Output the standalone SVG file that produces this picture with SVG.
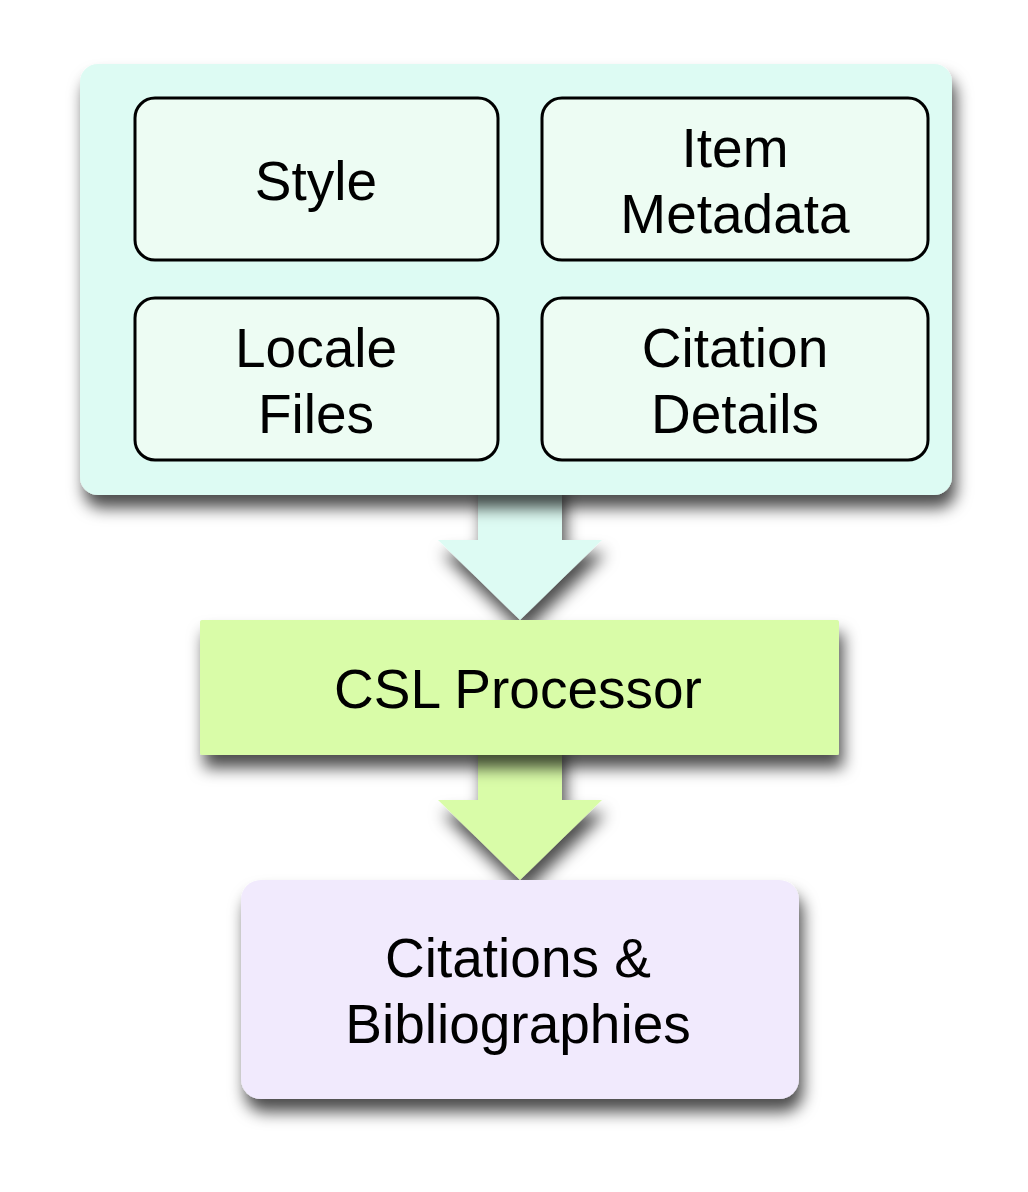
<svg xmlns="http://www.w3.org/2000/svg" width="1028" height="1192" viewBox="0 0 1028 1192">
<defs>
<filter id="sh" x="-20%" y="-20%" width="140%" height="160%">
<feDropShadow dx="4" dy="13" stdDeviation="8" flood-color="#000" flood-opacity="0.7"/>
</filter>
<style>
.t{font-family:"Liberation Sans",Arial,sans-serif;font-size:55px;fill:#000;text-anchor:middle}
.inner{fill:#edfcf3;stroke:#000;stroke-width:3}
</style>
</defs>
<rect width="1028" height="1192" fill="#fff"/>
<g id="connectors">
<path d="M478,480 L562,480 L562,540 L602,540 L520,620 L438,540 L478,540 Z" fill="#ddfbf3" filter="url(#sh)"/>
<path d="M478,740 L562,740 L562,800 L602,800 L520,880 L438,800 L478,800 Z" fill="#d9fca8" filter="url(#sh)"/>
</g>
<g id="inputs">
<rect x="80" y="64" width="872" height="431" rx="18" fill="#ddfbf3" filter="url(#sh)"/>
</g>
<g id="style">
<rect class="inner" x="135" y="98" width="363" height="162" rx="20"/>
<text class="t" x="316" y="200">Style</text>
</g>
<g id="item-metadata">
<rect class="inner" x="542" y="98" width="386" height="162" rx="20"/>
<text class="t" x="735" y="167">Item</text>
<text class="t" x="735" y="233">Metadata</text>
</g>
<g id="locale-files">
<rect class="inner" x="135" y="298" width="363" height="162" rx="20"/>
<text class="t" x="316" y="367">Locale</text>
<text class="t" x="316" y="433">Files</text>
</g>
<g id="citation-details">
<rect class="inner" x="542" y="298" width="386" height="162" rx="20"/>
<text class="t" x="735" y="367">Citation</text>
<text class="t" x="735" y="433">Details</text>
</g>
<g id="csl-processor">
<rect x="200" y="620" width="639" height="135" rx="2" fill="#d9fca8" filter="url(#sh)"/>
<text class="t" x="518" y="708">CSL Processor</text>
</g>
<g id="output">
<rect x="241" y="880" width="558" height="219" rx="20" fill="#f1eafd" filter="url(#sh)"/>
<text class="t" x="518" y="977">Citations &amp;</text>
<text class="t" x="518" y="1043">Bibliographies</text>
</g>
</svg>
